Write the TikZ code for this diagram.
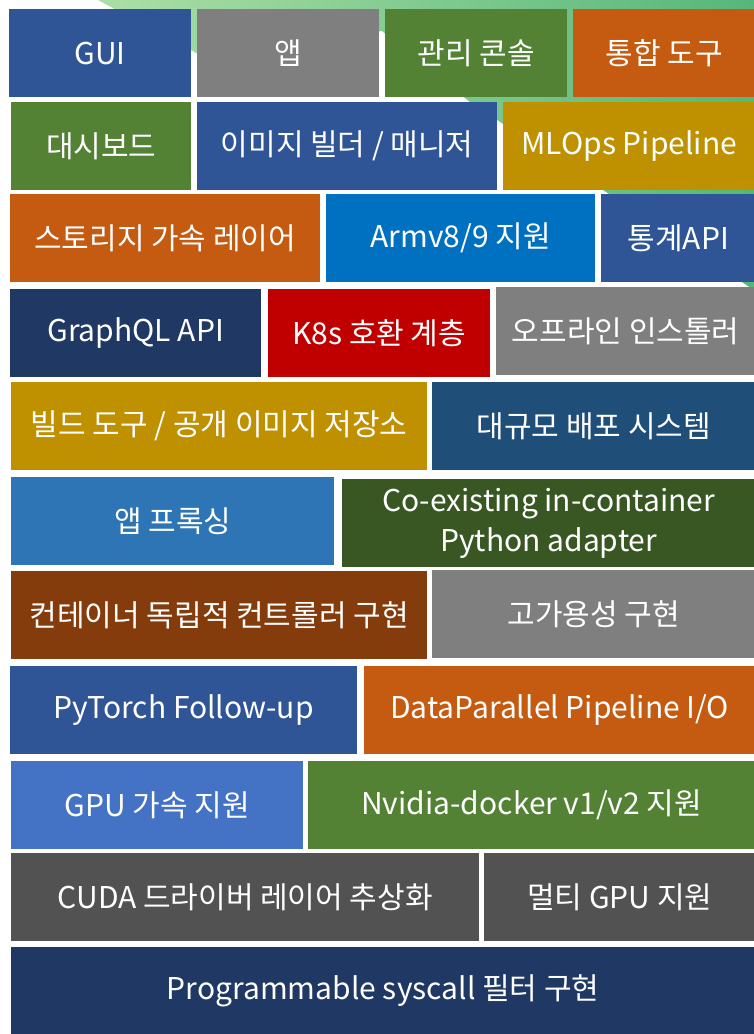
\documentclass[tikz,border=0pt]{standalone}
\usepackage{fontspec}
\setmainfont{Noto Sans CJK KR}
\definecolor{cblue}{HTML}{2F5597}
\definecolor{cgray}{HTML}{7F7F7F}
\definecolor{cgreen}{HTML}{548235}
\definecolor{corange}{HTML}{C55A11}
\definecolor{cgold}{HTML}{BF9000}
\definecolor{cazure}{HTML}{0070C0}
\definecolor{cnavy}{HTML}{203864}
\definecolor{cred}{HTML}{C00000}
\definecolor{cteal}{HTML}{1F4E79}
\definecolor{csky}{HTML}{2E75B6}
\definecolor{cforest}{HTML}{385723}
\definecolor{cbrown}{HTML}{843C0C}
\definecolor{croyal}{HTML}{4472C4}
\definecolor{cdark}{HTML}{525252}
\definecolor{bgleft}{RGB}{172,222,166}
\definecolor{bgright}{RGB}{86,183,122}

\begin{document}
\begin{tikzpicture}[x=1pt,y=-1pt,
  blk/.style={anchor=north west,inner sep=2pt,text=white,align=center,
    font=\fontsize{30}{40}\selectfont},
]
\path[use as bounding box] (0,0) rectangle (754,1034);
\fill[white] (0,0) rectangle (754,1034);
% green backdrop behind the top rows
\shade[left color=bgleft,right color=bgright]
  (98,0) -- (200,55) -- (382,31) -- (470,102) -- (754,290) -- (754,0) -- cycle;
% row 1
\node[blk,fill=cblue,minimum width=182pt,minimum height=88pt] (gui) at (9,9) {GUI};
\node[blk,fill=cgray,minimum width=182pt,minimum height=88pt] (app) at (197,9) {앱};
\node[blk,fill=cgreen,minimum width=182pt,minimum height=88pt] (console) at (385,9) {관리 콘솔};
\node[blk,fill=corange,minimum width=182pt,minimum height=88pt] (tools) at (573,9) {통합 도구};
% row 2
\node[blk,fill=cgreen,minimum width=180pt,minimum height=88pt] (dash) at (11,102) {대시보드};
\node[blk,fill=cblue,minimum width=300pt,minimum height=88pt] (builder) at (197,102) {이미지 빌더 / 매니저};
\node[blk,fill=cgold,minimum width=252pt,minimum height=88pt] (mlops) at (503,102) {MLOps Pipeline};
% row 3
\node[blk,fill=corange,minimum width=310pt,minimum height=88pt] (storage) at (10,194) {스토리지 가속 레이어};
\node[blk,fill=cazure,minimum width=269pt,minimum height=88pt] (arm) at (326,194) {Armv8/9 지원};
\node[blk,fill=cblue,minimum width=154pt,minimum height=88pt] (stats) at (601,194) {통계API};
% row 4
\node[blk,fill=cnavy,minimum width=251pt,minimum height=88pt] (graphql) at (10,289) {GraphQL API};
\node[blk,fill=cred,minimum width=222pt,minimum height=88pt] (k8s) at (268,289) {K8s 호환 계층};
\node[blk,fill=cgray,minimum width=259pt,minimum height=88pt] (offline) at (496,287) {오프라인 인스톨러};
% row 5
\node[blk,fill=cgold,minimum width=416pt,minimum height=88pt] (build) at (11,382) {빌드 도구 / 공개 이미지 저장소};
\node[blk,fill=cteal,minimum width=323pt,minimum height=88pt] (deploy) at (432,382) {대규모 배포 시스템};
% row 6
\node[blk,fill=csky,minimum width=323pt,minimum height=88pt] (proxy) at (11,477) {앱 프록싱};
\node[blk,fill=cforest,minimum width=413pt,minimum height=88pt] (coexist) at (342,479) {Co-existing in-container\\Python adapter};
% row 7
\node[blk,fill=cbrown,minimum width=416pt,minimum height=88pt] (ctrl) at (11,571) {컨테이너 독립적 컨트롤러 구현};
\node[blk,fill=cgray,minimum width=323pt,minimum height=88pt] (ha) at (432,570) {고가용성 구현};
% row 8
\node[blk,fill=cblue,minimum width=347pt,minimum height=88pt] (pytorch) at (10,666) {PyTorch Follow-up};
\node[blk,fill=corange,minimum width=391pt,minimum height=88pt] (dataio) at (364,666) {DataParallel Pipeline I/O};
% row 9
\node[blk,fill=croyal,minimum width=292pt,minimum height=88pt] (gpu) at (11,761) {GPU 가속 지원};
\node[blk,fill=cgreen,minimum width=447pt,minimum height=88pt] (nvidia) at (308,761) {Nvidia-docker v1/v2 지원};
% row 10
\node[blk,fill=cdark,minimum width=468pt,minimum height=88pt] (cuda) at (11,853) {CUDA 드라이버 레이어 추상화};
\node[blk,fill=cdark,minimum width=271pt,minimum height=88pt] (multi) at (484,853) {멀티 GPU 지원};
% row 11
\node[blk,fill=cnavy,minimum width=744pt,minimum height=88pt] (syscall) at (11,947) {Programmable syscall 필터 구현};
\end{tikzpicture}
\end{document}
